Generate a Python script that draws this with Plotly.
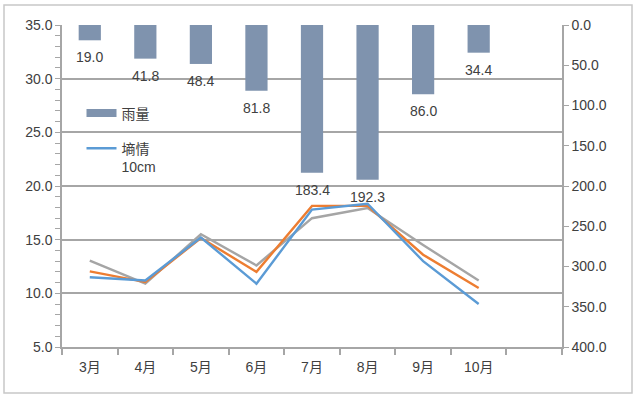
import plotly.graph_objects as go

months = ["3月", "4月", "5月", "6月", "7月", "8月", "9月", "10月"]
rain = [19.0, 41.8, 48.4, 81.8, 183.4, 192.3, 86.0, 34.4]
soil_blue = [11.5, 11.2, 15.2, 10.9, 17.8, 18.35, 13.0, 9.0]
soil_orange = [12.05, 11.05, 15.15, 12.0, 18.15, 18.15, 13.6, 10.5]
soil_gray = [13.05, 10.9, 15.5, 12.6, 17.0, 17.95, 14.5, 11.2]
left_ticks = [5, 10, 15, 20, 25, 30, 35]
right_ticks = [0, 50, 100, 150, 200, 250, 300, 350, 400]

xpos = list(range(len(months)))
n_slots = len(months) + 1  # one empty category on the right

TXT = "#404040"
GRID = "#a6a6a6"
BAR = "#7F93AE"
FONT = "Liberation Sans, Noto Sans CJK SC, sans-serif"

fig = go.Figure()

fig.add_trace(go.Bar(
    x=xpos, y=rain, yaxis="y2", name="雨量",
    marker=dict(color=BAR, line=dict(width=0)),
    width=0.4, showlegend=False,
))
# legend-only entry giving the wide rectangular swatch of the original
fig.add_trace(go.Scatter(
    x=[None], y=[None], yaxis="y2", mode="lines", name="雨量",
    line=dict(color=BAR, width=8), legendgroup="a",
))
fig.add_trace(go.Scatter(
    x=xpos, y=soil_gray, mode="lines", line=dict(color="#A5A5A5", width=2.4),
    showlegend=False,
))
fig.add_trace(go.Scatter(
    x=xpos, y=soil_orange, mode="lines", line=dict(color="#ED7D31", width=2.4),
    showlegend=False,
))
fig.add_trace(go.Scatter(
    x=xpos, y=soil_blue, mode="lines", line=dict(color="#5B9BD5", width=2.4),
    name="墒情<br>10cm", legendgroup="b",
))

annotations = []
for xi, v in zip(xpos, rain):
    annotations.append(dict(
        x=xi, y=v, xref="x", yref="y2", text=f"{v:.1f}", showarrow=False,
        yanchor="middle", yshift=-17, font=dict(size=14, color=TXT, family=FONT),
    ))

fig.update_layout(
    width=640, height=399,
    margin=dict(l=62, r=78, t=25, b=52),
    paper_bgcolor="white", plot_bgcolor="white",
    font=dict(family=FONT, size=13, color=TXT),
    showlegend=True,
    legend=dict(
        x=0.039, y=0.775, xanchor="left", yanchor="top",
        bgcolor="rgba(0,0,0,0)", font=dict(size=14, color=TXT),
        traceorder="grouped", tracegroupgap=14, itemwidth=30, valign="top",
    ),
    xaxis=dict(
        range=[-0.5, n_slots - 0.5],
        tickmode="array", tickvals=xpos, ticktext=months,
        ticks="outside", ticklen=6, tickcolor="rgba(0,0,0,0)",
        showline=True, linecolor=GRID, linewidth=1.5,
        showgrid=False, zeroline=False,
        minor=dict(tick0=-0.5, dtick=1, ticks="outside", ticklen=6,
                   tickcolor=GRID, tickwidth=1.5, showgrid=False),
        tickfont=dict(size=14, color=TXT),
    ),
    yaxis=dict(
        range=[5, 35], tickmode="array", tickvals=left_ticks,
        ticktext=[f"{t:.1f}" for t in left_ticks],
        showgrid=True, gridcolor=GRID, gridwidth=1.5,
        showline=True, linecolor=GRID, linewidth=1.5,
        ticks="outside", ticklen=5, tickcolor=GRID,
        minor=dict(dtick=1, tick0=5, ticks="outside", ticklen=5,
                   tickcolor=GRID, showgrid=False),
        zeroline=False, tickfont=dict(size=14, color=TXT),
    ),
    yaxis2=dict(
        overlaying="y", side="right", range=[400, 0],
        tickmode="array", tickvals=right_ticks,
        ticktext=[f"{t:.1f}" for t in right_ticks],
        showgrid=False, zeroline=False,
        showline=True, linecolor=GRID, linewidth=1.5,
        ticks="outside", ticklen=5, tickcolor=GRID,
        tickfont=dict(size=14, color=TXT),
    ),
    annotations=annotations,
    shapes=[dict(
        type="rect", xref="paper", yref="paper",
        x0=-0.116, x1=1.14, y0=-0.143, y1=1.062,
        line=dict(color="#c8c8c8", width=1.5), layer="below",
    )],
)

fig.write_html("out.html", config={"displayModeBar": False},
               post_script="document.body.style.margin='0';")
